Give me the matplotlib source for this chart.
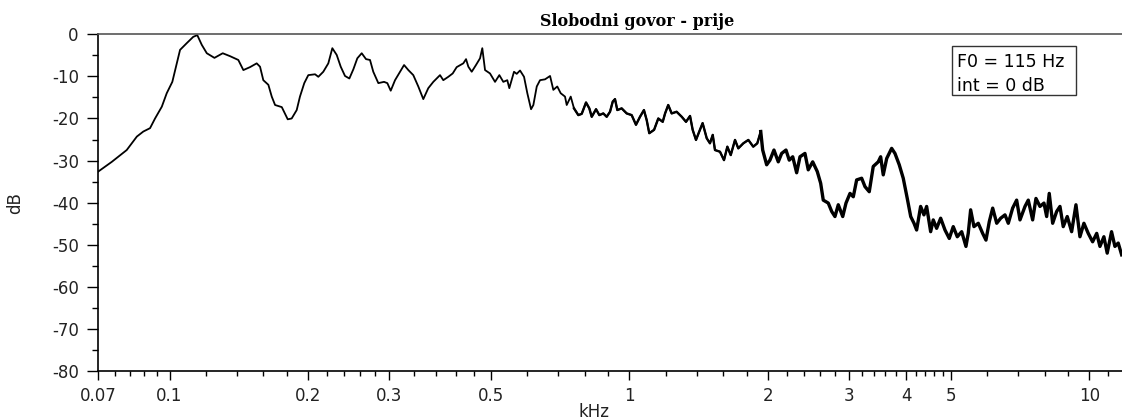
import matplotlib
matplotlib.use("Agg")
import matplotlib.pyplot as plt
from matplotlib.patches import Rectangle
from matplotlib.ticker import FixedLocator, FixedFormatter, NullFormatter

plt.rcParams["axes.unicode_minus"] = False

# ---- data ----
freq_khz = [
    0.0700, 0.0749, 0.0807, 0.0849, 0.0877, 0.0907, 0.0930, 0.0962, 0.0986, 0.1014,
    0.1037, 0.1054, 0.1090, 0.1126, 0.1149, 0.1175, 0.1205, 0.1252, 0.1305, 0.1354,
    0.1411, 0.1447, 0.1496, 0.1547, 0.1573, 0.1599, 0.1640, 0.1668, 0.1696, 0.1754,
    0.1807, 0.1843, 0.1890, 0.1921, 0.1963,
    0.2003, 0.2072, 0.2106, 0.2159, 0.2214, 0.2259, 0.2309, 0.2356, 0.2407, 0.2460,
    0.2510, 0.2560, 0.2617, 0.2674, 0.2728, 0.2773, 0.2844, 0.2926, 0.2975, 0.3026,
    0.3092, 0.3171, 0.3235, 0.3305, 0.3388, 0.3474, 0.3562, 0.3652, 0.3745, 0.3809,
    0.3873, 0.3937, 0.4037, 0.4127, 0.4210, 0.4352, 0.4412, 0.4463, 0.4539, 0.4637,
    0.4732, 0.4786, 0.4852, 0.4974, 0.5101, 0.5212,
    0.5317, 0.5424, 0.5479, 0.5609, 0.5686, 0.5781, 0.5898, 0.5996, 0.6109, 0.6180,
    0.6286, 0.6390, 0.6552, 0.6719, 0.6830, 0.6966, 0.7086, 0.7241, 0.7303, 0.7451,
    0.7574, 0.7740, 0.7873, 0.8044, 0.8178, 0.8277, 0.8458, 0.8598, 0.8770, 0.8921,
    0.9071, 0.9195, 0.9300, 0.9408, 0.9616, 0.9861, 1.011, 1.033, 1.054, 1.075,
    1.090, 1.104, 1.131, 1.155, 1.181, 1.195, 1.214, 1.235, 1.266, 1.299,
    1.327, 1.354, 1.372, 1.395, 1.418,
    1.442, 1.472, 1.496, 1.517, 1.534, 1.573, 1.605, 1.632, 1.660, 1.696,
    1.724, 1.768, 1.813, 1.858, 1.896, 1.929, 1.948, 1.987, 2.020, 2.061,
    2.106, 2.142, 2.189, 2.225, 2.264, 2.309, 2.348, 2.407, 2.447, 2.502,
    2.560, 2.604, 2.638, 2.705, 2.752, 2.797, 2.844, 2.908, 2.956, 3.016,
    3.066, 3.118, 3.197, 3.251, 3.321, 3.388, 3.474, 3.516, 3.562, 3.624,
    3.715, 3.777, 3.859,
    3.937, 4.017, 4.087, 4.155, 4.210, 4.295, 4.367, 4.426, 4.516, 4.575,
    4.653, 4.748, 4.852, 4.957, 5.057, 5.160, 5.275, 5.389, 5.451, 5.517,
    5.609, 5.732, 5.859, 5.957, 6.057, 6.161, 6.286, 6.412, 6.552, 6.661,
    6.808, 6.946, 7.063, 7.242, 7.362, 7.525, 7.651, 7.806, 7.964, 8.072,
    8.177, 8.318, 8.486, 8.628, 8.770, 8.948, 9.147, 9.347, 9.535, 9.727,
    9.940, 10.16, 10.37, 10.54, 10.75, 10.93, 11.17, 11.36, 11.55, 11.75,
]
level_db = [
    -32.6, -30.3, -27.5, -24.3, -23.1, -22.3, -20.0, -17.2, -14.0, -11.3,
    -6.9, -3.7, -2.1, -0.6, -0.2, -2.5, -4.5, -5.6, -4.5, -5.2,
    -6.1, -8.5, -7.8, -6.9, -7.7, -10.9, -12.0, -14.8, -16.8, -17.3,
    -20.2, -20.0, -18.0, -14.8, -11.6,
    -9.7, -9.5, -10.1, -8.9, -6.9, -3.3, -4.9, -7.7, -9.9, -10.5,
    -8.3, -5.7, -4.5, -5.9, -6.1, -8.9, -11.6, -11.3, -11.6, -13.4,
    -10.9, -8.9, -7.3, -8.5, -9.7, -12.4, -15.4, -12.8, -11.3, -10.5,
    -9.7, -10.9, -10.1, -9.3, -7.8, -6.9, -5.9, -7.7, -8.9, -7.3,
    -5.7, -3.3, -8.5, -9.3, -11.3, -9.7,
    -11.3, -10.9, -12.8, -8.9, -9.4, -8.6, -10.1, -14.0, -17.8, -16.8,
    -12.4, -10.9, -10.7, -9.9, -13.2, -12.4, -14.0, -14.8, -16.8, -14.8,
    -17.6, -19.2, -18.9, -16.2, -17.6, -19.6, -17.8, -19.2, -18.8, -19.6,
    -18.4, -16.0, -15.4, -18.0, -17.6, -18.8, -19.2, -21.5, -19.6, -18.0,
    -20.4, -23.5, -22.7, -20.0, -20.8, -18.8, -16.8, -18.8, -18.4, -19.6,
    -20.8, -19.4, -22.7, -25.1, -23.1,
    -21.1, -24.7, -25.9, -23.9, -27.5, -27.9, -29.9, -26.7, -28.7, -25.1,
    -27.1, -25.9, -25.1, -26.7, -25.9, -23.1, -27.5, -31.0, -29.9, -27.5,
    -30.3, -28.3, -27.5, -29.9, -29.1, -32.9, -29.1, -28.3, -32.2, -30.3,
    -32.6, -35.4, -39.4, -40.1, -42.1, -43.3, -40.5, -43.3, -40.1, -37.8,
    -38.6, -34.6, -34.2, -36.2, -37.4, -31.4, -30.3, -29.1, -33.4, -29.5,
    -27.1, -28.3, -31.0,
    -34.2, -39.0, -43.3, -44.9, -46.5, -40.9, -42.9, -40.9, -46.9, -44.1,
    -46.1, -43.7, -46.5, -48.5, -45.7, -48.1, -46.9, -50.4, -47.3, -41.7,
    -45.7, -44.9, -47.3, -48.9, -44.5, -41.3, -44.9, -43.7, -42.9, -44.9,
    -41.3, -39.4, -44.1, -40.9, -39.4, -44.1, -39.0, -40.9, -40.1, -43.3,
    -37.8, -44.9, -42.1, -40.9, -45.7, -43.3, -46.9, -40.5, -48.1, -44.9,
    -47.3, -49.3, -47.3, -50.4, -48.1, -52.0, -46.9, -50.4, -49.6, -52.4,
]

x_major = [0.07, 0.1, 0.2, 0.3, 0.5, 1, 2, 3, 4, 5, 10]
x_major_labels = ["0.07", "0.1", "0.2", "0.3", "0.5", "1", "2", "3", "4", "5", "10"]
x_minor = [0.076, 0.082, 0.088, 0.094, 0.12, 0.14, 0.16, 0.18, 0.22, 0.24, 0.26, 0.28,
           0.34, 0.38, 0.42, 0.46, 0.6, 0.7, 0.8, 0.9, 1.2, 1.4, 1.6, 1.8,
           2.2, 2.4, 2.6, 2.8, 3.2, 3.4, 3.6, 3.8, 4.2, 4.4, 4.6, 4.8,
           6, 7, 8, 9, 11]
y_major = [-80, -70, -60, -50, -40, -30, -20, -10, 0]
y_minor = [-75, -65, -55, -45, -35, -25, -15, -5]

title_text = "Slobodni govor - prije"
legend_lines = ["F0 = 115 Hz", "int = 0 dB"]

# ---- figure ----
W, H = 1122, 420
fig = plt.figure(figsize=(W / 100, H / 100), dpi=100)
fig.patch.set_facecolor("white")

def fx(px):
    return px / W

def fy(py):
    return 1 - py / H

left, right, top, bottom = 98.3, 1122, 34.3, 371.0
ax = fig.add_axes([fx(left), fy(bottom), fx(right) - fx(left), fy(top) - fy(bottom)])
ax.set_xscale("log")
ax.plot(freq_khz, level_db, color="black", lw=1.3)
# the dense (noisy) upper part of the spectrum looks like a heavier band
n_mid = next(i for i, f in enumerate(freq_khz) if f >= 0.75)
n_hi = next(i for i, f in enumerate(freq_khz) if f >= 1.9)
ax.plot(freq_khz[n_mid:n_hi + 1], level_db[n_mid:n_hi + 1], color="black", lw=1.7)
ax.plot(freq_khz[n_hi:], level_db[n_hi:], color="black", lw=2.4)
ax.set_xlim(0.07, 11.77)
ax.set_ylim(-80, 0)

ax.xaxis.set_major_locator(FixedLocator(x_major))
ax.xaxis.set_major_formatter(FixedFormatter(x_major_labels))
ax.xaxis.set_minor_locator(FixedLocator(x_minor))
ax.xaxis.set_minor_formatter(NullFormatter())
ax.yaxis.set_major_locator(FixedLocator(y_major))
ax.yaxis.set_minor_locator(FixedLocator(y_minor))

tick_color = "#222222"
ax.tick_params(axis="both", which="both", direction="out", width=1.0, colors="black",
               labelcolor=tick_color, labelsize=12)
ax.tick_params(axis="x", which="major", length=6.5, pad=5)
ax.tick_params(axis="x", which="minor", length=3.6)
ax.tick_params(axis="y", which="major", length=8, pad=6)
ax.tick_params(axis="y", which="minor", length=4)
for lab in ax.get_xticklabels() + ax.get_yticklabels():
    lab.set_fontfamily("DejaVu Sans")

ax.spines["left"].set_linewidth(1.2)
ax.spines["bottom"].set_linewidth(1.2)
ax.spines["top"].set_linewidth(1.2)
ax.spines["top"].set_color("#555555")
ax.spines["right"].set_visible(False)

# axis labels
fig.text(fx(15.5), fy(203), "dB", rotation=90, ha="center", va="center",
         fontsize=12, color=tick_color, family="DejaVu Sans")
fig.text(fx(594), fy(412), "kHz", ha="center", va="center",
         fontsize=12, color=tick_color, family="DejaVu Sans")

# title
fig.text(fx(637), fy(26), title_text, ha="center", va="baseline",
         fontsize=11.5, fontweight="bold", family="DejaVu Serif", color="black")

# annotation box
fig.patches.append(Rectangle((fx(951.7), fy(95)), fx(1076) - fx(951.7), fy(45.7) - fy(95),
                             transform=fig.transFigure, fill=False, edgecolor="#333333",
                             lw=1.0, figure=fig))
fig.text(fx(957), fy(66.7), legend_lines[0], ha="left", va="baseline",
         fontsize=12.5, family="DejaVu Sans", color="black")
fig.text(fx(957), fy(90.7), legend_lines[1], ha="left", va="baseline",
         fontsize=12.5, family="DejaVu Sans", color="black")

fig.savefig("out.png", dpi=100, facecolor="white")
